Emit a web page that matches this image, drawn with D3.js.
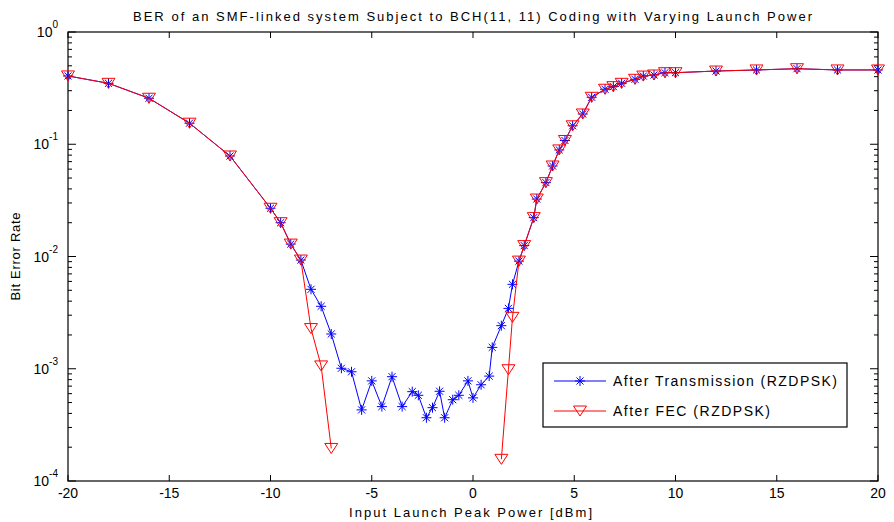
<!DOCTYPE html>
<html>
<head>
<meta charset="utf-8">
<script src="https://cdn.jsdelivr.net/npm/d3@7"></script>
<style>
  body { margin: 0; background: #fff; }
  text { font-family: Arial, "Liberation Sans", sans-serif; }
</style>
</head>
<body>
<script>
// Data
const powerDbm = [-20,-18,-16,-14,-12,-10,-9.5,-9,-8.5,-8,-7.5,-7,-6.5,-6,-5.5,-5,-4.5,-4,-3.5,
                  -3,-2.7,-2.3,-2,-1.65,-1.4,-1,-0.7,-0.25,0,0.4,0.8,0.95,1.4,1.75,1.95,2.27,2.53,
                  3.0,3.15,3.6,3.93,4.26,4.54,4.92,5.42,5.86,6.52,6.93,7.34,8.0,8.41,8.94,9.48,10,
                  12,14,16,18,20];
const berTransmission = [0.406,0.349,0.257,0.154,0.0786,0.0269,0.020,0.0129,0.0093,0.0051,0.0036,
                  0.00204,0.00101,0.00094,0.00043,0.00078,0.00046,0.00085,0.00046,0.000625,0.00058,
                  0.000366,0.00045,0.00063,0.000366,0.00053,0.00058,0.00078,0.00055,0.00072,0.00086,
                  0.00155,0.00242,0.00345,0.00565,0.0091,0.0125,0.0222,0.0325,0.0455,0.064,0.089,
                  0.108,0.146,0.186,0.262,0.309,0.326,0.349,0.379,0.405,0.414,0.434,0.434,
                  0.449,0.459,0.471,0.459,0.459];
// null = zero BER (not drawn on log axis)
const berFec = [0.406,0.349,0.257,0.154,0.0786,0.0269,0.020,0.0129,0.0093,0.00228,0.00106,
                  0.000195,null,null,null,null,null,null,null,null,null,
                  null,null,null,null,null,null,null,null,null,null,
                  null,0.000156,0.00098,0.00287,0.0091,0.0125,0.0222,0.0325,0.0455,0.064,0.089,
                  0.108,0.146,0.186,0.262,0.309,0.326,0.349,0.379,0.405,0.414,0.434,0.434,
                  0.449,0.459,0.471,0.459,0.459];
const xTicks = [-20,-15,-10,-5,0,5,10,15,20];
const yTicks = [1e-4,1e-3,1e-2,1e-1,1];
const seriesNames = ["After Transmission (RZDPSK)", "After FEC (RZDPSK)"];

const W = 894, H = 522;
const margin = {top:32, right:16, bottom:41, left:68};
const width = W - margin.left - margin.right;
const height = H - margin.top - margin.bottom;

const svg = d3.select("body").append("svg")
    .attr("width", W).attr("height", H);

const g = svg.append("g")
    .attr("transform", `translate(${margin.left},${margin.top})`);

const x = d3.scaleLinear().domain([-20,20]).range([0,width]);
const y = d3.scaleLog().domain([1e-4,1]).range([height,0]);

// minor ticks on log axis
const minorTicks = [];
for (let e = -4; e < 0; e++) {
    for (let m = 2; m <= 9; m++) minorTicks.push(m * Math.pow(10, e));
}

// x ticks top and bottom (inward)
xTicks.forEach(t => {
    g.append("line").attr("x1", x(t)).attr("x2", x(t)).attr("y1", height).attr("y2", height-6)
        .attr("stroke", "#000");
    g.append("line").attr("x1", x(t)).attr("x2", x(t)).attr("y1", 0).attr("y2", 6)
        .attr("stroke", "#000");
    g.append("text").attr("x", x(t)).attr("y", height + 17)
        .attr("text-anchor", "middle").style("font-size", "14px").text(t);
});

// y ticks left and right
yTicks.forEach(t => {
    [0, width].forEach((x0, i) => {
        const dir = i === 0 ? 1 : -1;
        g.append("line").attr("x1", x0).attr("x2", x0 + dir*8).attr("y1", y(t)).attr("y2", y(t))
            .attr("stroke", "#000");
    });
    const e = Math.round(Math.log10(t));
    const lab = g.append("text").attr("x", -10).attr("y", y(t) + 5)
        .attr("text-anchor", "end").style("font-size", "14px");
    lab.append("tspan").text("10");
    lab.append("tspan").attr("dy", -9).style("font-size", "10px").text(e);
});
minorTicks.forEach(t => {
    [0, width].forEach((x0, i) => {
        const dir = i === 0 ? 1 : -1;
        g.append("line").attr("x1", x0).attr("x2", x0 + dir*4).attr("y1", y(t)).attr("y2", y(t))
            .attr("stroke", "#000");
    });
});

// frame
g.append("rect").attr("width", width).attr("height", height)
    .attr("fill", "none").attr("stroke", "#000").attr("stroke-width", 1.2);

// marker shapes
function asterisk(sel, cx, cy, r, color) {
    const d = r * 0.707;
    const p = `M${cx-r},${cy}L${cx+r},${cy}M${cx},${cy-r}L${cx},${cy+r}` +
              `M${cx-d},${cy-d}L${cx+d},${cy+d}M${cx-d},${cy+d}L${cx+d},${cy-d}`;
    sel.append("path").attr("d", p).attr("stroke", color).attr("stroke-width", 1).attr("fill", "none");
}
function triDown(sel, cx, cy, color) {
    const w = 6.5, h = 8;
    const p = `M${cx-w},${cy-h/2-1}L${cx+w},${cy-h/2-1}L${cx},${cy+h/2+1}Z`;
    sel.append("path").attr("d", p).attr("stroke", color).attr("stroke-width", 1).attr("fill", "none");
}

const txData = powerDbm.map((p, i) => ({x: p, y: berTransmission[i]}));
const fecData = powerDbm.map((p, i) => ({x: p, y: berFec[i]}));

const line = d3.line()
    .defined(d => d.y !== null)
    .x(d => x(d.x)).y(d => y(d.y));

const plot = g.append("g");

// transmission (blue)
plot.append("path").datum(txData).attr("d", line)
    .attr("fill", "none").attr("stroke", "#0000ff").attr("stroke-width", 1);
txData.forEach(d => asterisk(plot, x(d.x), y(d.y), 5, "#0000ff"));

// FEC (red)
plot.append("path").datum(fecData).attr("d", line)
    .attr("fill", "none").attr("stroke", "#ff0000").attr("stroke-width", 1);
fecData.filter(d => d.y !== null).forEach(d => triDown(plot, x(d.x), y(d.y), "#ff0000"));

// legend
const legendLen = [224, 157];
const lg = svg.append("g").attr("transform", "translate(543,363)");
lg.append("rect").attr("width", 304).attr("height", 64)
    .attr("fill", "#fff").attr("stroke", "#000").attr("stroke-width", 1.2);
[0,1].forEach(i => {
    const ly = 18 + i*30;
    const color = i === 0 ? "#0000ff" : "#ff0000";
    lg.append("line").attr("x1", 11).attr("x2", 63).attr("y1", ly).attr("y2", ly)
        .attr("stroke", color).attr("stroke-width", 1);
    if (i === 0) asterisk(lg, 37, ly, 5, color); else triDown(lg, 37, ly, color);
    lg.append("text").attr("x", 70).attr("y", ly + 5).style("font-size", "14px")
        .attr("textLength", legendLen[i]).attr("lengthAdjust", "spacing")
        .text(seriesNames[i]);
});

// titles
svg.append("text").attr("x", 133).attr("y", 21)
    .style("font-size", "13px")
    .attr("textLength", 679).attr("lengthAdjust", "spacing")
    .text("BER of an SMF-linked system Subject to BCH(11, 11) Coding with Varying Launch Power");
svg.append("text").attr("x", 349).attr("y", 517)
    .style("font-size", "13px")
    .attr("textLength", 243).attr("lengthAdjust", "spacing")
    .text("Input Launch Peak Power [dBm]");
svg.append("text").attr("transform", `translate(20,${margin.top + height/2 + 44}) rotate(-90)`)
    .style("font-size", "13px")
    .attr("textLength", 88).attr("lengthAdjust", "spacing")
    .text("Bit Error Rate");
</script>
</body>
</html>
